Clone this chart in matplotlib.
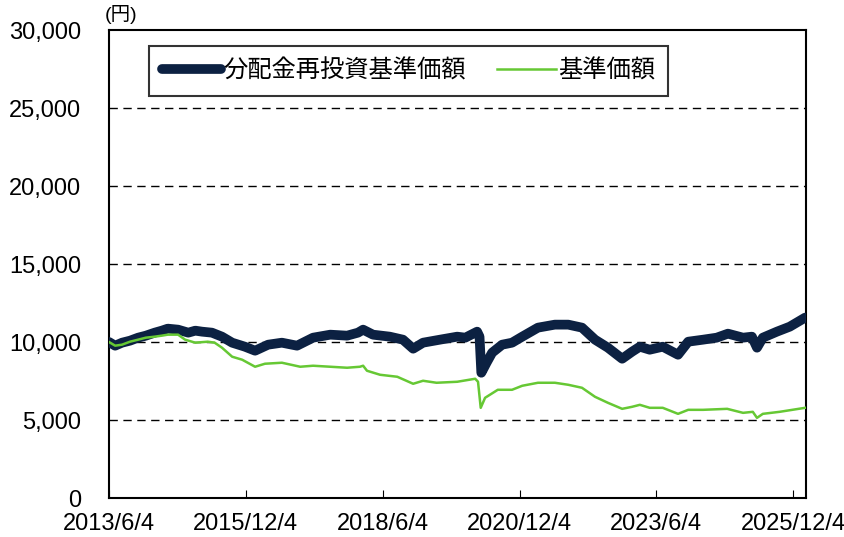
import matplotlib
matplotlib.use("Agg")
import matplotlib.pyplot as plt
import pandas as pd

plt.rcParams['font.family'] = ['Liberation Sans', 'Noto Sans CJK JP', 'DejaVu Sans']

# 分配金再投資基準価額
reinv_dates = [
    "2013-06-04", "2013-07-15", "2013-08-30", "2013-10-22", "2013-12-15", "2014-02-05",
    "2014-04-05", "2014-05-22", "2014-07-01", "2014-09-08", "2014-11-15", "2015-01-01",
    "2015-02-15", "2015-04-22", "2015-06-28", "2015-09-04", "2015-11-28", "2016-02-04",
    "2016-05-01", "2016-08-01", "2016-11-10", "2017-02-25", "2017-06-20", "2017-10-10",
    "2017-12-22", "2018-01-25", "2018-04-01", "2018-07-22", "2018-10-18", "2018-12-25",
    "2019-03-01", "2019-06-22", "2019-10-15", "2019-12-08", "2020-02-25", "2020-03-12",
    "2020-03-24", "2020-04-28", "2020-06-04", "2020-08-10", "2020-10-15", "2020-12-22",
    "2021-04-06", "2021-07-28", "2021-10-25", "2022-01-25", "2022-04-22", "2022-07-17",
    "2022-10-20", "2022-12-25", "2023-02-15", "2023-04-22", "2023-07-18", "2023-10-28",
    "2024-01-04", "2024-04-12", "2024-07-12", "2024-09-25", "2025-01-04", "2025-03-04",
    "2025-04-07", "2025-05-16", "2025-08-18", "2025-11-12", "2026-02-22",
]
reinv_values = [
    10000, 9765, 9957, 10086, 10278, 10407,
    10600, 10728, 10857, 10792, 10600, 10728,
    10664, 10600, 10343, 9957, 9700, 9443,
    9829, 9957, 9765, 10278, 10471, 10407,
    10600, 10792, 10471, 10343, 10150, 9572,
    9957, 10150, 10343, 10278, 10664, 10343,
    8030, 8672, 9315, 9829, 9957, 10343,
    10921, 11114, 11114, 10921, 10150, 9636,
    8929, 9379, 9700, 9507, 9700, 9186,
    10021, 10150, 10278, 10535, 10278, 10343,
    9636, 10278, 10664, 10985, 11563,
]

# 基準価額
nav_dates = [
    "2013-06-04", "2013-07-15", "2013-08-30", "2013-10-22", "2013-12-15", "2014-02-05",
    "2014-04-05", "2014-05-22", "2014-07-01", "2014-09-08", "2014-10-25", "2015-01-01",
    "2015-03-25", "2015-05-10", "2015-06-28", "2015-09-04", "2015-11-10", "2016-02-04",
    "2016-04-10", "2016-08-01", "2016-12-01", "2017-02-25", "2017-06-20", "2017-10-10",
    "2018-01-04", "2018-01-25", "2018-02-20", "2018-05-18", "2018-09-10", "2018-12-25",
    "2019-03-01", "2019-05-30", "2019-10-15", "2020-02-12", "2020-03-02", "2020-03-20",
    "2020-04-18", "2020-07-12", "2020-10-15", "2020-12-22", "2021-04-06", "2021-07-28",
    "2021-10-25", "2022-01-25", "2022-04-22", "2022-07-17", "2022-10-20", "2022-12-25",
    "2023-02-15", "2023-04-22", "2023-07-18", "2023-10-28", "2024-01-04", "2024-04-12",
    "2024-09-20", "2025-01-04", "2025-03-10", "2025-04-07", "2025-05-16", "2025-09-05",
    "2026-02-22",
]
nav_values = [
    10000, 9765, 9829, 10021, 10150, 10278,
    10343, 10407, 10471, 10471, 10150, 9957,
    10021, 9957, 9636, 9058, 8865, 8415,
    8608, 8672, 8415, 8480, 8415, 8351,
    8415, 8480, 8158, 7901, 7773, 7323,
    7516, 7388, 7452, 7645, 7452, 5782,
    6424, 6938, 6938, 7195, 7388, 7388,
    7259, 7066, 6488, 6103, 5717, 5846,
    5974, 5782, 5782, 5396, 5653, 5653,
    5717, 5460, 5525, 5139, 5396, 5525,
    5782,
]

tick_dates = ["2013-06-04", "2015-12-04", "2018-06-04", "2020-12-04", "2023-06-04", "2025-12-04"]
tick_labels = ["2013/6/4", "2015/12/4", "2018/6/4", "2020/12/4", "2023/6/4", "2025/12/4"]

fig = plt.figure(figsize=(8.45, 5.37), dpi=100)
ax = fig.add_axes([0.129, 0.0726, 0.8243, 0.8715])

ax.plot(pd.to_datetime(reinv_dates), reinv_values, color='#0c2142', lw=7,
        solid_capstyle='round', solid_joinstyle='round', label='分配金再投資基準価額', zorder=3)
ax.plot(pd.to_datetime(nav_dates), nav_values, color='#66c834', lw=1.8,
        label='基準価額', zorder=4)

ax.set_xlim(pd.Timestamp("2013-06-04"), pd.Timestamp("2026-02-25"))
ax.set_ylim(0, 30000)
ax.set_yticks(range(0, 30001, 5000))
ax.set_yticklabels([f"{v:,}" for v in range(0, 30001, 5000)])
ax.set_xticks(pd.to_datetime(tick_dates))
ax.set_xticklabels(tick_labels)

for y in range(5000, 30000, 5000):
    ax.axhline(y, color='black', lw=1.0, ls=(0, (6, 4)), zorder=1)

ax.tick_params(axis='y', length=0, pad=20, labelsize=17)
ax.tick_params(axis='x', direction='in', length=6, width=0.8, pad=11, labelsize=17)
for s in ax.spines.values():
    s.set_linewidth(1.5)
    s.set_color('black')

ax.text(-0.006, 1.012, '(円)', transform=ax.transAxes, fontsize=14, ha='left', va='bottom')

leg = ax.legend(loc='upper left', bbox_to_anchor=(149 / 845, 1 - 46 / 537),
                bbox_transform=fig.transFigure, ncol=2, fontsize=17.5,
                frameon=True, fancybox=False, edgecolor='black', borderaxespad=0,
                handlelength=2.4, handletextpad=0.1, columnspacing=1.3,
                borderpad=0.55)
leg.get_frame().set_linewidth(1.5)

fig.savefig('out.png', dpi=100)
